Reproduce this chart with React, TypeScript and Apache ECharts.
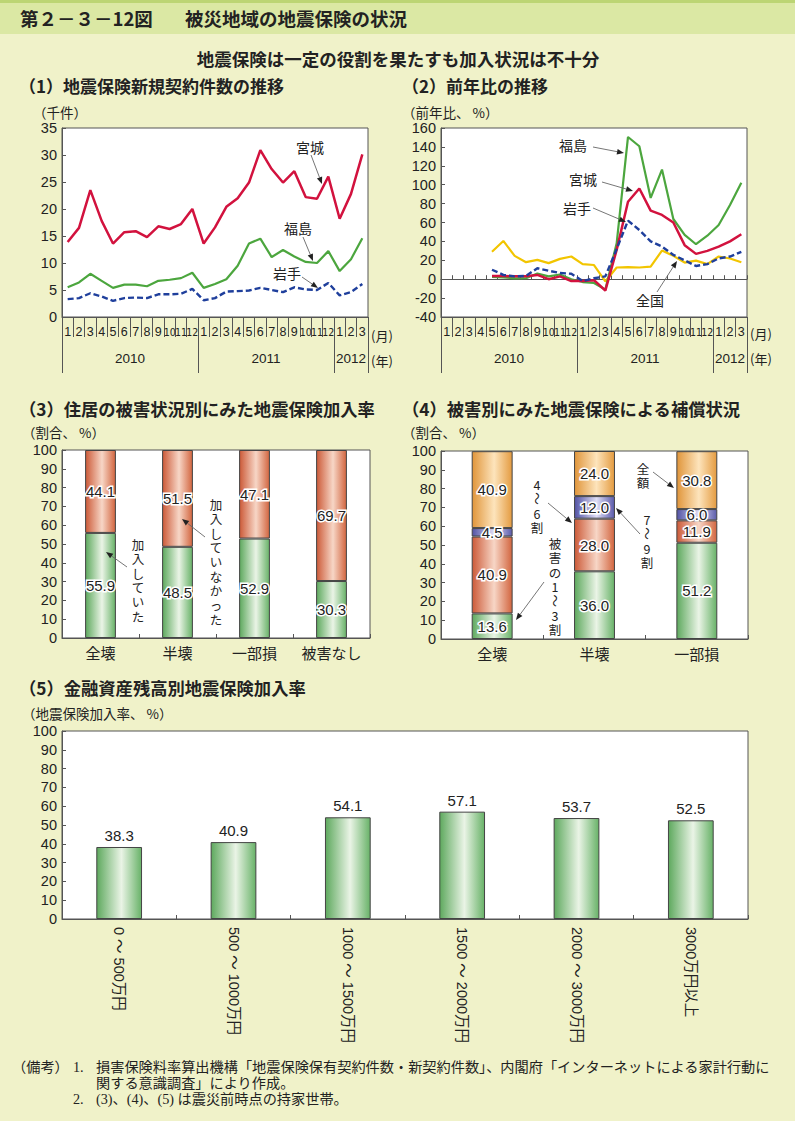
import React, { useEffect, useRef } from "react";
import * as echarts from "echarts";

const FONT = "'Liberation Sans', 'Noto Sans CJK JP', sans-serif";
const CJK = "'Noto Sans CJK JP', 'Liberation Sans', sans-serif";
const SERIF = "'Liberation Serif', 'Noto Sans CJK JP', serif";
const NARROW = "'DejaVu Sans Condensed', 'Liberation Sans Narrow', 'Liberation Sans', sans-serif";

// ---------- data ----------
const monthLabels = ["1","2","3","4","5","6","7","8","9","10","11","12","1","2","3","4","5","6","7","8","9","10","11","12","1","2","3"];
const years = ["2010", "2011", "2012"];
const monthsPerYear = [12, 12, 3];

// (1) new contracts, thousand
const miyagiCount = [13.9,16.5,23.5,17.8,13.6,15.7,15.9,14.8,16.8,16.3,17.2,20.0,13.6,16.6,20.4,22.0,24.9,30.9,27.4,24.9,27.0,22.2,21.9,26.0,18.2,22.8,30.1];
const fukushimaCount = [5.5,6.4,8.0,6.7,5.4,6.0,6.0,5.7,6.7,6.9,7.2,8.2,5.4,6.1,7.0,9.5,13.6,14.5,11.1,12.4,11.2,10.2,10.0,12.2,8.5,10.7,14.6];
const iwateCount = [3.3,3.5,4.4,3.8,3.0,3.5,3.6,3.5,4.2,4.2,4.3,5.2,3.1,3.5,4.7,4.8,4.9,5.4,5.0,4.6,5.5,5.1,5.0,6.3,4.0,4.6,6.1];

// (2) year-on-year, %
const fukushimaYoY = [null,null,null,null,2.5,2,0.8,1,6,3,5,0,-3,-4,-11,38,150.5,140.7,86,116,63.7,46.8,37,46,57.4,78.5,102];
const miyagiYoY = [null,null,null,null,3.5,3.5,3,3,4.5,0,3,-2,-2,-1,-12,31,82,96,72.5,68,60,36,26.8,30,34.5,40,47.5];
const iwateYoY = [null,null,null,null,10,4.6,3,3.5,11.6,9,6.5,5.8,-2,1,3,32,62,52,40,34.5,25.7,20,14,16,22,24,29];
const nationalYoY = [null,null,null,null,29,40.5,24.7,18,20.5,17,21.5,24,16,15,-2.4,12.4,12.7,12.4,13.4,30.3,24.7,17.6,19.7,16,24,21.9,18];

// (3) insured by damage
const damageCats3 = ["全壊", "半壊", "一部損", "被害なし"];
const insured3 = [55.9, 48.5, 52.9, 30.3];
const notInsured3 = [44.1, 51.5, 47.1, 69.7];

// (4) compensation by damage
const damageCats4 = ["全壊", "半壊", "一部損"];
const comp1to3 = [13.6, 36.0, 51.2];
const comp4to6 = [40.9, 28.0, 11.9];
const comp7to9 = [4.5, 12.0, 6.0];
const compFull = [40.9, 24.0, 30.8];

// (5) insured by financial assets
const assetCats = ["0 ～ 500万円", "500 ～ 1000万円", "1000 ～ 1500万円", "1500 ～ 2000万円", "2000 ～ 3000万円", "3000万円以上"];
const assetRates = [38.3, 40.9, 54.1, 57.1, 53.7, 52.5];

// ---------- helpers ----------
const AX = "#555";
const TXT = "#222";

// half-month slots for year separators / labels
const slotCount = monthLabels.length * 2 + 1;
const halfSlots = Array.from({ length: slotCount }, (_, i) => "s" + i);
const yearBoundarySlots: number[] = [0];
const yearLabelBySlot: Record<number, string> = {};
{
  let acc = 0;
  monthsPerYear.forEach((n, i) => {
    yearLabelBySlot[2 * acc + n] = years[i];
    acc += n;
    yearBoundarySlots.push(2 * acc);
  });
}

const grad = (edge1: string, mid: string, edge2: string) =>
  new echarts.graphic.LinearGradient(0, 0, 1, 0, [
    { offset: 0, color: edge1 },
    { offset: 0.55, color: mid },
    { offset: 1, color: edge2 },
  ]);

const GREEN = () => grad("#5ea95e", "#eaf4e6", "#68b268");
const RED = () => grad("#cc5a38", "#f7d6c6", "#d2653f");
const ORANGE = () => grad("#e0953a", "#fde4bc", "#e49b40");
const PURPLE = () => grad("#5252a4", "#dedef6", "#5a5aaa");

const text = (x: number, y: number, s: string, o: any = {}) => ({
  type: "text",
  x,
  y,
  z: 100,
  silent: true,
  style: {
    text: s,
    fill: o.fill || TXT,
    fontSize: o.size || 14,
    fontFamily: o.family || CJK,
    fontWeight: o.weight || "normal",
    align: o.align || "left",
    textAlign: o.align || "left",
    verticalAlign: "middle",
    textVerticalAlign: "middle",
  },
});

const vtext = (x: number, top: number, s: string, lh = 14.4, size = 12.5) =>
  Array.from(s).map((ch, i) => {
    const wave = ch === "～";
    return {
      type: "text",
      x,
      y: top + lh * i + lh / 2,
      rotation: wave ? -Math.PI / 2 : 0,
      z: 100,
      silent: true,
      style: {
        text: ch,
        fill: TXT,
        fontSize: size,
        lineHeight: lh,
        fontFamily: CJK,
        align: "center",
        textAlign: "center",
        verticalAlign: "middle",
        textVerticalAlign: "middle",
      },
    };
  });

const arrow = (x1: number, y1: number, x2: number, y2: number) => {
  const a = Math.atan2(y2 - y1, x2 - x1);
  const L = 7, W = 2.8;
  const bx = x2 - L * Math.cos(a), by = y2 - L * Math.sin(a);
  const px = -Math.sin(a) * W, py = Math.cos(a) * W;
  return [
    { type: "line", z: 100, silent: true, shape: { x1, y1, x2: bx, y2: by }, style: { stroke: "#666", lineWidth: 0.9 } },
    { type: "polygon", z: 100, silent: true, shape: { points: [[x2, y2], [bx + px, by + py], [bx - px, by - py]] }, style: { fill: "#222" } },
  ];
};

const gridBase = { show: true, backgroundColor: "#ffffff", borderColor: AX, borderWidth: 1, containLabel: false };

const yAxisOf = (gridIndex: number, min: number, max: number, interval: number) => ({
  type: "value",
  gridIndex,
  min,
  max,
  interval,
  axisLine: { show: true, lineStyle: { color: AX } },
  axisTick: { show: true, inside: true, length: 4, lineStyle: { color: AX } },
  splitLine: { show: false },
  axisLabel: { color: TXT, fontSize: 14.5, fontFamily: FONT, margin: 5 },
});

const monthAxis = (gridIndex: number, extra: any = {}) => ({
  type: "category",
  gridIndex,
  data: monthLabels,
  boundaryGap: true,
  position: "bottom",
  axisLine: { show: true, onZero: false, lineStyle: { color: AX } },
  axisTick: { show: true, length: 20, interval: 0, lineStyle: { color: AX } },
  axisLabel: {
    interval: 0,
    margin: 9,
    color: TXT,
    fontSize: 12.5,
    fontFamily: FONT,
    formatter: (v: string) => (v.length > 1 ? `{s|${v}}` : v),
    rich: { s: { fontSize: 10.5, fontFamily: NARROW, color: TXT } },
  },
  ...extra,
});

const yearAxis = (gridIndex: number) => ({
  type: "category",
  gridIndex,
  data: halfSlots,
  boundaryGap: false,
  position: "bottom",
  axisLine: { show: false, onZero: false },
  axisTick: {
    show: true,
    length: 56,
    interval: (i: number) => yearBoundarySlots.includes(i),
    lineStyle: { color: AX },
  },
  axisLabel: {
    interval: 0,
    margin: 35,
    color: TXT,
    fontSize: 13.5,
    fontFamily: FONT,
    formatter: (_v: string, i: number) => yearLabelBySlot[i] || "",
  },
});

const catAxis = (gridIndex: number, data: string[], extra: any = {}) => ({
  type: "category",
  gridIndex,
  data,
  boundaryGap: true,
  axisLine: { show: true, lineStyle: { color: AX } },
  axisTick: { show: true, inside: true, length: 4, lineStyle: { color: AX } },
  axisLabel: { interval: 0, margin: 7, color: TXT, fontSize: 15, fontFamily: CJK },
  ...extra,
});

const inLabel = {
  show: true,
  position: "inside",
  formatter: (p: any) => Number(p.value).toFixed(1),
  color: TXT,
  fontSize: 15,
  fontFamily: FONT,
  textBorderColor: "#ffffff",
  textBorderWidth: 3,
};

const barStyle = (c: any) => ({ color: c, borderColor: "#444", borderWidth: 1 });

const lineS = (xi: number, yi: number, data: any[], color: string, width: number, type: any = "solid") => ({
  type: "line",
  xAxisIndex: xi,
  yAxisIndex: yi,
  data,
  showSymbol: false,
  symbol: "none",
  lineStyle: { color, width, type },
  itemStyle: { color },
  z: 3,
});

const stackBar = (xi: number, yi: number, stack: string, data: number[], c: any) => ({
  type: "bar",
  xAxisIndex: xi,
  yAxisIndex: yi,
  stack,
  data,
  barWidth: "40%",
  itemStyle: barStyle(c),
  label: inLabel,
});

function buildOption() {
  const FN = 14.2;
  const graphics: any[] = [
    { type: "rect", z: -1, silent: true, shape: { x: 0, y: 0, width: 795, height: 34 }, style: { fill: "#dbe8a4" } },
    { type: "rect", z: -1, silent: true, shape: { x: 0, y: 0, width: 795, height: 3 }, style: { fill: "#bcd574" } },
    text(20, 18, "第２－３－12図", { size: 18.5, weight: "bold" }),
    text(185, 18, "被災地域の地震保険の状況", { size: 18.5, weight: "bold" }),
    text(398, 58, "地震保険は一定の役割を果たすも加入状況は不十分", { size: 17.5, weight: "bold", align: "center" }),
    text(19, 85, "（1）地震保険新規契約件数の推移", { size: 17, weight: "bold" }),
    text(402, 85, "（2）前年比の推移", { size: 17, weight: "bold" }),
    text(19, 408, "（3）住居の被害状況別にみた地震保険加入率", { size: 17.3, weight: "bold" }),
    text(402, 408, "（4）被害別にみた地震保険による補償状況", { size: 17.3, weight: "bold" }),
    text(19, 687, "（5）金融資産残高別地震保険加入率", { size: 17.3, weight: "bold" }),
    // axis names
    text(33, 112, "（千件）", { size: 13.5 }),
    text(402, 112, "（前年比、 %）", { size: 13.5 }),
    text(22, 432, "（割合、 %）", { size: 13.5 }),
    text(402, 432, "（割合、 %）", { size: 13.5 }),
    text(22, 713, "（地震保険加入率、 %）", { size: 13.5 }),
    // (月)(年)
    text(371, 335, "(月)", { size: 13 }),
    text(371, 360, "(年)", { size: 13 }),
    text(750, 333, "(月)", { size: 13 }),
    text(750, 358, "(年)", { size: 13 }),
    // panel 1 annotations
    text(310, 147, "宮城", { size: 14, align: "center" }),
    ...arrow(311, 155, 322, 184),
    text(298, 228, "福島", { size: 14, align: "center" }),
    ...arrow(303, 237, 313, 261),
    text(287, 273, "岩手", { size: 14, align: "center" }),
    ...arrow(302, 277, 318, 288),
    // panel 2 annotations
    text(573, 145, "福島", { size: 14, align: "center" }),
    ...arrow(593, 147, 624, 153),
    text(583, 179, "宮城", { size: 14, align: "center" }),
    ...arrow(602, 182, 633, 191),
    text(577, 208, "岩手", { size: 14, align: "center" }),
    ...arrow(593, 208, 626, 222),
    text(650, 300, "全国", { size: 14, align: "center" }),
    ...arrow(657, 292, 677, 261),
    // panel 3 annotations
    ...vtext(138, 537, "加入していた"),
    ...arrow(127, 567, 106, 552),
    ...vtext(216, 497, "加入していなかった"),
    ...arrow(205, 537, 182, 519),
    // panel 4 annotations
    ...vtext(537, 477, "4～6割"),
    ...arrow(548, 503, 572, 523),
    ...vtext(555, 536, "被害の1～3割"),
    ...arrow(544, 582, 516, 620),
    ...vtext(647, 512, "7～9割"),
    ...arrow(640, 534, 616, 508),
    ...vtext(643, 461, "全額"),
    ...arrow(653, 472, 674, 488),
    // footer
    text(12, 1067, "（備考）", { size: FN, family: SERIF }),
    text(73, 1067, "1.", { size: FN, family: SERIF }),
    text(96, 1067, "損害保険料率算出機構「地震保険保有契約件数・新契約件数」、内閣府「インターネットによる家計行動に", { size: FN, family: SERIF }),
    text(96, 1083, "関する意識調査」により作成。", { size: FN, family: SERIF }),
    text(73, 1099, "2.", { size: FN, family: SERIF }),
    text(96, 1099, "(3)、(4)、(5) は震災前時点の持家世帯。", { size: FN, family: SERIF }),
  ];

  return {
    animation: false,
    backgroundColor: "#f0f2c9",
    textStyle: { fontFamily: FONT },
    grid: [
      { ...gridBase, left: 62, top: 128, width: 306, height: 189 },
      { ...gridBase, left: 441, top: 128, width: 306, height: 189 },
      { ...gridBase, left: 62, top: 450, width: 308, height: 188 },
      { ...gridBase, left: 441, top: 451, width: 307, height: 188 },
      { ...gridBase, left: 62, top: 731, width: 686, height: 188 },
    ],
    xAxis: [
      monthAxis(0),
      yearAxis(0),
      {
        type: "category",
        gridIndex: 1,
        data: monthLabels,
        boundaryGap: true,
        axisLine: { show: true, onZero: true, lineStyle: { color: AX } },
        axisTick: { show: true, inside: true, length: 4, interval: 0, lineStyle: { color: AX } },
        axisLabel: { show: false },
      },
      monthAxis(1),
      yearAxis(1),
      catAxis(2, damageCats3),
      catAxis(3, damageCats4),
      catAxis(4, assetCats, {
        axisLabel: { interval: 0, rotate: -90, margin: 8, color: TXT, fontSize: 14.5, fontFamily: FONT },
      }),
    ],
    yAxis: [
      yAxisOf(0, 0, 35, 5),
      yAxisOf(1, -40, 160, 20),
      yAxisOf(2, 0, 100, 10),
      yAxisOf(3, 0, 100, 10),
      yAxisOf(4, 0, 100, 10),
    ],
    series: [
      lineS(0, 0, fukushimaCount, "#4ca63e", 2.2),
      lineS(0, 0, iwateCount, "#1f3f9c", 2.4, [6, 3]),
      lineS(0, 0, miyagiCount, "#d2123e", 2.5),

      lineS(2, 1, nationalYoY, "#f2c500", 2.2),
      lineS(2, 1, fukushimaYoY, "#4ca63e", 2.2),
      lineS(2, 1, miyagiYoY, "#d2123e", 2.5),
      lineS(2, 1, iwateYoY, "#1f3f9c", 2.4, [6, 3]),

      stackBar(5, 2, "p3", insured3, GREEN()),
      stackBar(5, 2, "p3", notInsured3, RED()),

      stackBar(6, 3, "p4", comp1to3, GREEN()),
      stackBar(6, 3, "p4", comp4to6, RED()),
      stackBar(6, 3, "p4", comp7to9, PURPLE()),
      stackBar(6, 3, "p4", compFull, ORANGE()),

      {
        type: "bar",
        xAxisIndex: 7,
        yAxisIndex: 4,
        data: assetRates,
        barWidth: "40%",
        itemStyle: barStyle(GREEN()),
        label: {
          show: true,
          position: "top",
          distance: 4,
          formatter: (p: any) => Number(p.value).toFixed(1),
          color: TXT,
          fontSize: 15,
          fontFamily: FONT,
        },
      },
    ],
    graphic: { elements: graphics },
  };
}

export default function App() {
  const ref = useRef<HTMLDivElement>(null);
  useEffect(() => {
    if (!ref.current) return;
    const chart = echarts.init(ref.current, null, { renderer: "svg", width: 795, height: 1121 });
    chart.setOption(buildOption() as any);
    return () => chart.dispose();
  }, []);
  return (
    <div
      ref={ref}
      style={{ position: "absolute", left: 0, top: 0, width: 795, height: 1121 }}
    />
  );
}
